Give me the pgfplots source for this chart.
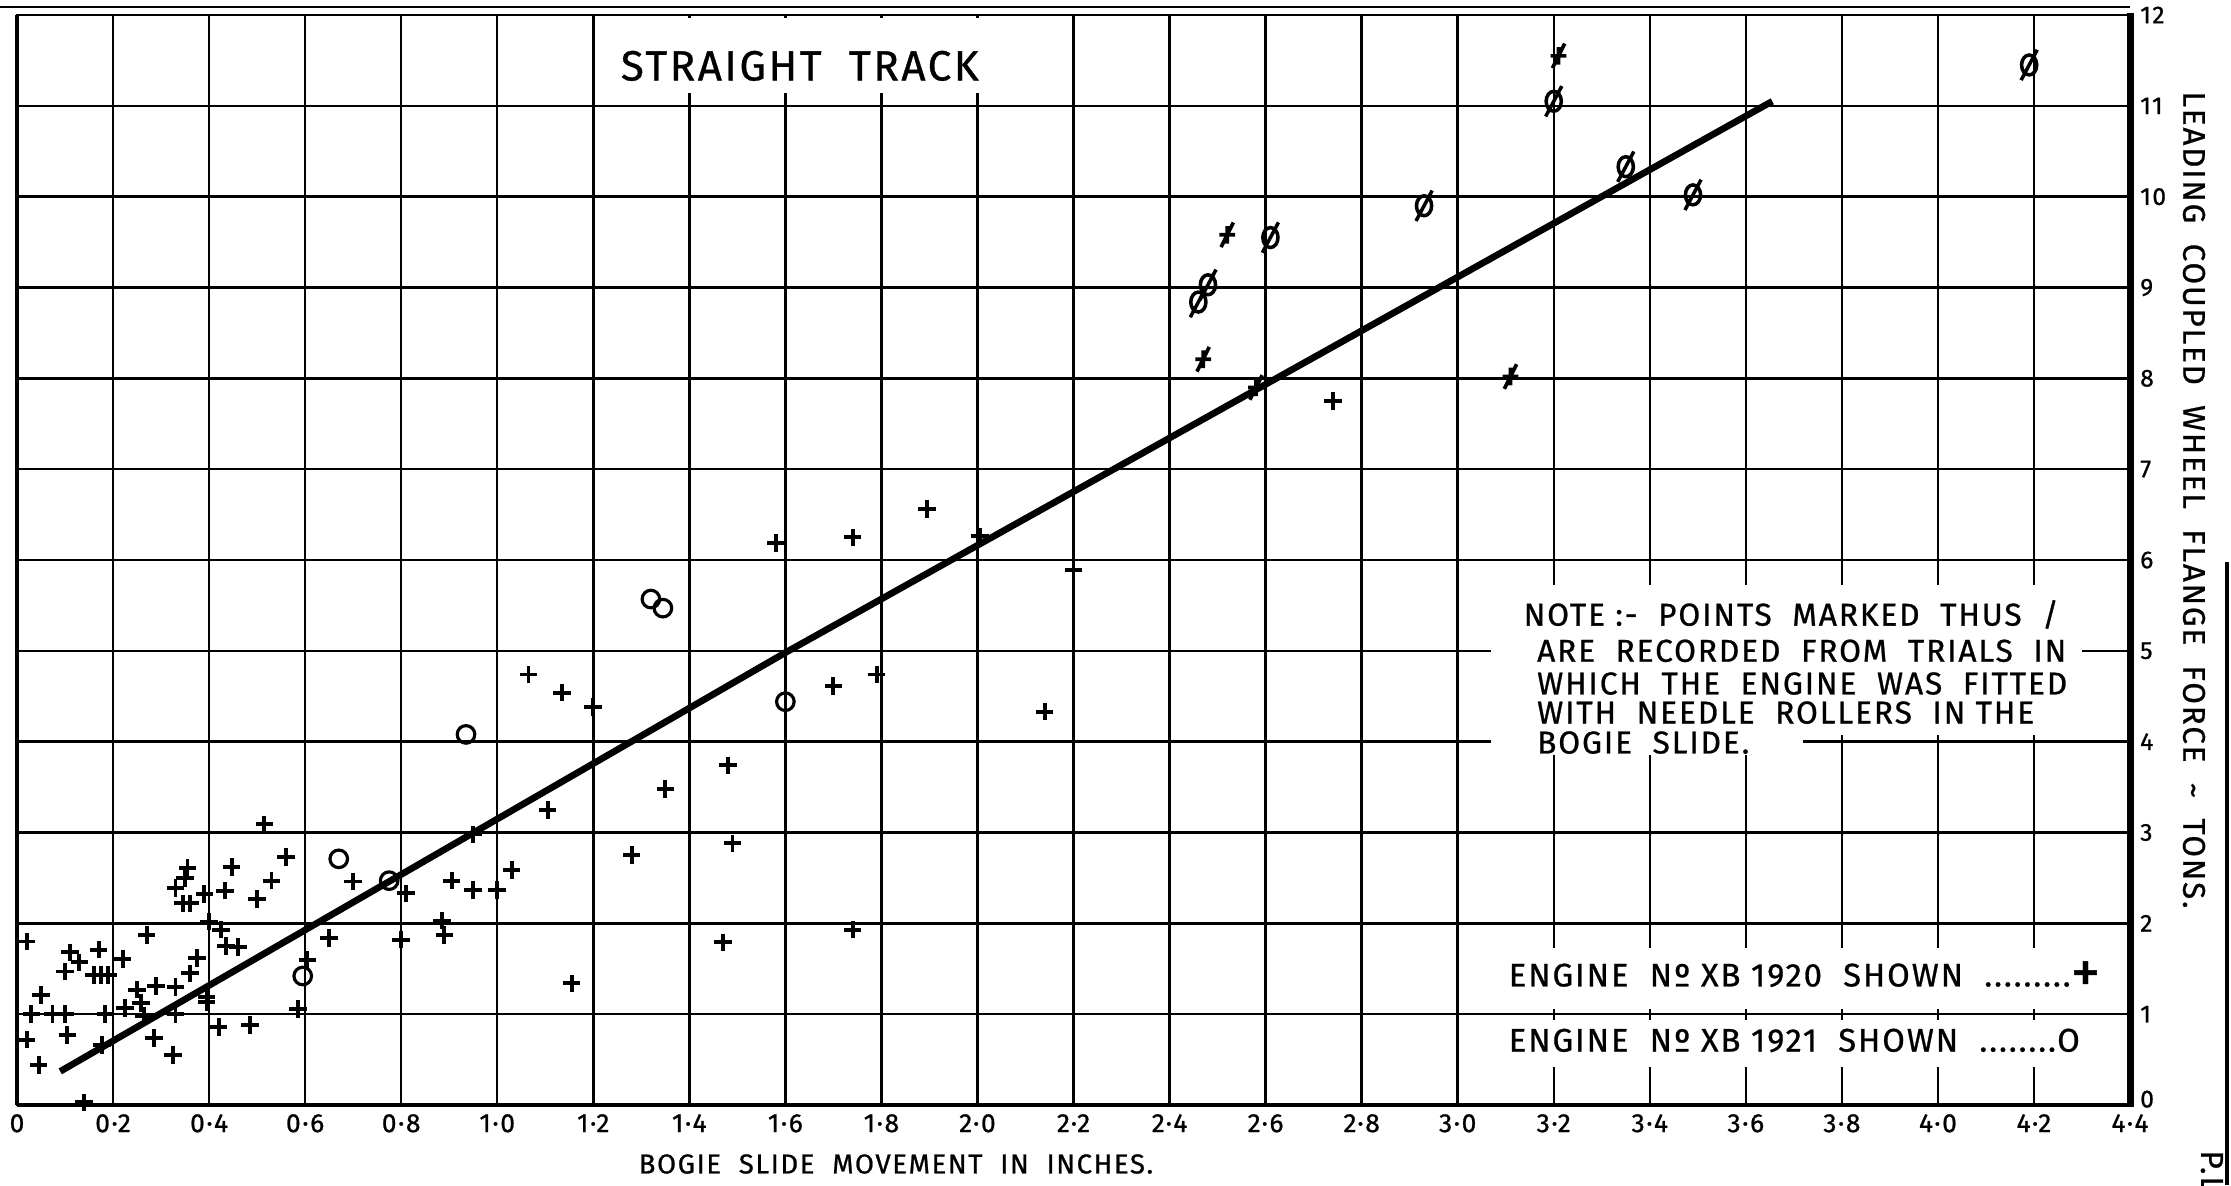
\documentclass[border=0pt]{standalone}
\usepackage{pgfplots}
\pgfplotsset{compat=1.18}
\usepackage{fontspec}
\setmainfont{Fira Sans}
\newfontfamily\hand[LetterSpace=6, FakeBold=0.8]{Fira Sans}
\pgfdeclareplotmark{oslash}{%
  \pgfpathellipse{\pgfpointorigin}{\pgfqpoint{0.8\pgfplotmarksize}{0pt}}{\pgfqpoint{0pt}{1.05\pgfplotmarksize}}%
  \pgfpathmoveto{\pgfqpoint{-0.85\pgfplotmarksize}{-1.6\pgfplotmarksize}}%
  \pgfpathlineto{\pgfqpoint{0.85\pgfplotmarksize}{1.6\pgfplotmarksize}}%
  \pgfusepathqstroke}
\pgfdeclareplotmark{pslash}{%
  \pgfpathmoveto{\pgfqpoint{-0.9\pgfplotmarksize}{0pt}}\pgfpathlineto{\pgfqpoint{0.9\pgfplotmarksize}{0pt}}%
  \pgfpathmoveto{\pgfqpoint{0pt}{-\pgfplotmarksize}}\pgfpathlineto{\pgfqpoint{0pt}{\pgfplotmarksize}}%
  \pgfpathmoveto{\pgfqpoint{-0.7\pgfplotmarksize}{-1.4\pgfplotmarksize}}\pgfpathlineto{\pgfqpoint{0.7\pgfplotmarksize}{1.4\pgfplotmarksize}}%
  \pgfusepathqstroke}
\begin{document}
\begin{tikzpicture}
\path[use as bounding box] (-0.17cm,-0.80cm) rectangle (22.14cm,11.05cm);
\begin{axis}[
  at={(0,0)}, anchor=south west,
  scale only axis, width=21.13cm, height=10.90cm,
  xmin=0, xmax=4.4, ymin=0, ymax=12,
  clip=false,
  xtick={0,0.2,0.4,0.6,0.8,1.0,1.2,1.4,1.6,1.8,2.0,2.2,2.4,2.6,2.8,3.0,3.2,3.4,3.6,3.8,4.0,4.2,4.4},
  xticklabels={0,0·2,0·4,0·6,0·8,1·0,1·2,1·4,1·6,1·8,2·0,2·2,2·4,2·6,2·8,3·0,3·2,3·4,3·6,3·8,4·0,4·2,4·4},
  ytick={0,1,2,3,4,5,6,7,8,9,10,11,12},
  yticklabels={\raisebox{0.12cm}{0},1,2,3,4,5,6,7,8,9,10,11,12},
  yticklabel pos=right,
  xticklabel style={font=\hand\fontsize{7.5}{8}\selectfont, inner sep=1pt, yshift=-0.05cm},
  yticklabel style={font=\hand\fontsize{7}{8}\selectfont, inner sep=1pt, xshift=0.06cm},
  tick style={draw=none},
  grid=major,
  major grid style={black, line width=0.7pt},
  axis line style={black, line width=0.7pt},
]
% white boxes interrupting the grid
\fill[white] (axis cs:1.21,11.14) rectangle (axis cs:2.19,11.97);
\fill[white] (axis cs:3.07,4.07) rectangle (axis cs:4.30,5.72);
\fill[white] (axis cs:3.07,3.85) rectangle (axis cs:3.72,4.07);
\fill[white] (axis cs:3.03,1.06) rectangle (axis cs:4.37,1.73);
\fill[white] (axis cs:3.03,0.42) rectangle (axis cs:4.37,0.94);

% Engine XB 1920 (plain crosses)
\addplot[only marks, mark=+, mark size=2.5pt, line width=1.1pt] coordinates {
(0.02,1.80) (0.27,1.87) (0.17,1.71) (0.11,1.68) (0.13,1.57) (0.22,1.61) (0.10,1.47)
(0.16,1.43) (0.175,1.43) (0.19,1.43) (0.05,1.21) (0.25,1.27) (0.29,1.31) (0.33,1.30)
(0.36,1.45) (0.375,1.62) (0.225,1.07) (0.258,1.12) (0.265,0.98) (0.03,1.0) (0.074,1.0)
(0.10,1.0) (0.184,1.0) (0.33,1.0) (0.02,0.72) (0.105,0.77) (0.177,0.66) (0.045,0.44)
(0.285,0.74) (0.325,0.55) (0.14,0.03)
(0.395,1.19) (0.395,1.13) (0.42,0.86) (0.485,0.88) (0.585,1.06) (0.605,1.60) (0.65,1.84)
(0.40,2.02) (0.425,1.93) (0.435,1.75) (0.46,1.74)
(0.515,3.09) (0.56,2.73) (0.447,2.62) (0.355,2.61) (0.35,2.50) (0.33,2.39) (0.345,2.22)
(0.36,2.22) (0.39,2.32) (0.433,2.36) (0.53,2.47) (0.50,2.27)
(0.70,2.46) (0.81,2.33) (0.905,2.47) (0.95,2.37) (1.0,2.37) (1.03,2.59) (0.95,2.98)
(0.885,2.03) (0.89,1.87) (0.80,1.82)
(1.105,3.25) (1.155,1.34) (1.28,2.75) (1.35,3.48) (1.48,3.74) (1.49,2.88) (1.47,1.79) (1.74,1.93)
(1.065,4.74) (1.135,4.54) (1.20,4.38) (1.70,4.61) (1.79,4.74) (2.14,4.33)
(1.58,6.19) (1.74,6.25) (1.895,6.56) (2.005,6.26) (2.20,5.89)
(2.74,7.75)
};
% Engine XB 1921 (plain circles)
\addplot[only marks, mark=o, mark size=2.5pt, line width=0.9pt] coordinates {
(0.595,1.42) (0.67,2.71) (0.775,2.47) (0.935,4.08) (1.32,5.57) (1.345,5.47) (1.60,4.44)
};
% Engine XB 1921 with needle rollers (slashed circles)
\addplot[only marks, mark=oslash, mark size=2.7pt, line width=1pt] coordinates {
(2.46,8.84) (2.48,9.03) (2.61,9.55) (2.93,9.90) (3.20,11.05) (3.35,10.33) (3.49,10.02) (4.19,11.45)
};
% Engine XB 1920 with needle rollers (slashed crosses)
\addplot[only marks, mark=pslash, mark size=2.5pt, line width=1.05pt] coordinates {
(2.47,8.21) (2.52,9.58) (2.58,7.90) (3.11,8.02) (3.21,11.55)
};
% mean line
\addplot[no marks, line width=1.9pt] coordinates {(0.09,0.37) (1.60,4.98) (3.655,11.05)};

% title and notes
\node[font=\hand\fontsize{12}{14}\selectfont] at (axis cs:1.63,11.44) {STRAIGHT~~TRACK};
\node[anchor=west, inner sep=0pt, font=\hand\fontsize{9}{10}\selectfont] at (axis cs:3.136,5.40) {NOTE :-~~POINTS~~MARKED~~THUS~~/};
\node[anchor=west, inner sep=0pt, font=\hand\fontsize{9}{10}\selectfont] at (axis cs:3.164,5.00) {ARE~~RECORDED~~FROM~~TRIALS~~IN};
\node[anchor=west, inner sep=0pt, font=\hand\fontsize{9}{10}\selectfont] at (axis cs:3.164,4.64) {WHICH~~THE~~ENGINE~~WAS~~FITTED};
\node[anchor=west, inner sep=0pt, font=\hand\fontsize{9}{10}\selectfont] at (axis cs:3.164,4.32) {WITH~~NEEDLE~~ROLLERS~~IN THE};
\node[anchor=west, inner sep=0pt, font=\hand\fontsize{9}{10}\selectfont] at (axis cs:3.164,3.99) {BOGIE~~SLIDE.};
\node[anchor=west, inner sep=0pt, font=\hand\fontsize{9.3}{10}\selectfont] at (axis cs:3.105,1.41) {ENGINE~~Nº~XB~1920~~SHOWN~~.........\raisebox{-0.35ex}{\fontsize{17}{17}\selectfont +}};
\node[anchor=west, inner sep=0pt, font=\hand\fontsize{9.3}{10}\selectfont] at (axis cs:3.105,0.71) {ENGINE~~Nº~XB~1921~~SHOWN~~........O};
\end{axis}
% heavier axis lines and frame
\draw[line width=1.4pt] (0,0) -- (0,10.90cm);
\draw[line width=1.2pt] (0,0) -- (21.13cm,0);
\draw[line width=2pt] (21.13cm,-0.02cm) -- (21.13cm,10.92cm);
\draw[line width=0.8pt] (-0.17cm,10.98cm) -- (21.13cm,10.98cm);
\draw[line width=1pt] (22.10cm,5.43cm) -- (22.10cm,-0.80cm);
% axis titles
\node[font=\hand\fontsize{7.8}{9}\selectfont] at (8.79cm,-0.59cm) {BOGIE~~SLIDE~~MOVEMENT~~IN~~INCHES.};
\node[rotate=-90, font=\hand\fontsize{8.9}{10}\selectfont] at (21.77cm,6.05cm) {LEADING~~COUPLED~~WHEEL~~FLANGE~~FORCE~~\textasciitilde~~TONS.};
\node[rotate=-90, anchor=west, font=\hand\fontsize{9}{10}\selectfont] at (21.95cm,-0.33cm) {P.L.C.};
\end{tikzpicture}
\end{document}
